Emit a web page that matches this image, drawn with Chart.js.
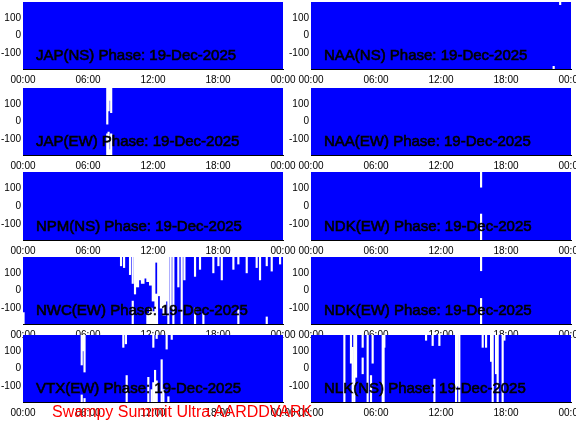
<!DOCTYPE html>
<html>
<head>
<meta charset="utf-8">
<script src="https://cdn.jsdelivr.net/npm/chart.js@4/dist/chart.umd.min.js"></script>
<style>
  body { margin: 0; background: #fff; width: 576px; height: 432px; overflow: hidden; position: relative; }
  .panel { position: absolute; }
  #footer { position: absolute; left: 52px; top: 403px; font: 16px 'Liberation Sans', Arial, sans-serif;
            line-height: 18px; color: #f00; white-space: nowrap; z-index: 5; }
</style>
</head>
<body>
<div id="footer">Swampy Summit Ultra AARDDVARK</div>
<script>
/* global Chart*/
'use strict';

// axis ticks
var hourTicks = [0, 6, 12, 18, 24];
var hourLabels = ['00:00', '06:00', '12:00', '18:00', '00:00'];
var phaseTicks = [-100, 0, 100];

// every station recorded the whole day, phase wraps over the full range
var coverageHours = [0, 24];
var phaseLimits = [-190, 190];

// white gaps in the phase trace: [hour, low, high]
var gapsJapNS = [];
var gapsNaaNS = [[22.4, -190, -175], [23.0, 175, 190]];
var gapsJapEW = [
  [7.78, -15, 190], [7.78, -190, -70], [7.9, 60, 190], [7.9, -190, -60],
  [8.02, 120, 190], [8.02, -190, -160], [8.14, 50, 190], [8.14, -190, -70]
];
var gapsNaaEW = [];
var gapsNpmNS = [];
var gapsNdkEW1 = [[15.7, 105, 190], [15.7, -190, -45]];
var gapsNwcEW = [
  [0.05, -190, -125],
  [9.05, 140, 190], [9.33, 130, 190], [9.88, 90, 190], [10.13, 40, 190], [10.13, -190, -60], [10.34, -20, 190],
  [13.42, -190, 190], [13.63, -100, 190], [13.88, -190, 190], [14.34, 20, 190], [14.65, -190, 190], [14.9, 60, 190],
  [15.88, 80, 190], [15.88, -190, -100], [16.34, 120, 190], [16.65, -190, -130], [17.57, 100, 190],
  [18.04, 140, 190], [18.35, 60, 190], [19.42, 120, 190], [19.88, -190, -110], [19.88, 150, 190],
  [20.65, 100, 190], [21.57, 130, 190], [21.88, 60, 190], [22.5, 140, 190], [22.5, -190, -150],
  [22.96, 110, 190], [23.73, 150, 190]
];
// wider white patches around midday on NWC
var blanksNwcEW = [
  [10.55, 20, 190], [10.8, 60, 190], [11.05, 40, 190], [11.3, 70, 190], [11.55, 50, 190], [11.55, -190, -130],
  [11.8, 30, 190], [11.8, -190, -100], [12.05, -60, 190], [12.05, -190, -120], [12.3, 160, 190], [12.3, -190, -20],
  [12.55, -30, 190], [12.8, -100, 190], [13.05, -140, 190], [13.3, -60, 190]
];
var gapsNdkEW2 = [[15.7, 112, 190], [15.7, -190, -45]];
var gapsVtxEW = [
  [5.42, 20, 190], [5.42, -190, -150], [5.55, 100, 190], [5.68, -20, 190], [5.68, -190, -170],
  [9.26, 120, 190], [9.5, 140, 190], [9.57, -190, -40],
  [11.57, -190, -50], [11.88, -190, -120], [12.03, 120, 190], [12.03, -190, -80], [12.19, -190, -10],
  [12.34, -190, -70], [12.34, 170, 190], [12.8, -190, 50], [12.96, -190, -120], [13.26, 110, 190],
  [13.42, -190, -160], [13.73, 165, 190]
];
var gapsNlkNS = [
  [3.08, -190, 190], [3.69, 30, 190], [3.85, -190, 120], [4.0, -190, 190], [4.16, -50, 190],
  [4.77, 120, 190], [4.77, -30, 60], [5.23, -190, 190], [5.54, -190, -40], [5.69, 30, 190],
  [6.62, -190, 190], [6.7, -190, 190], [6.77, 120, 190], [10.62, 160, 190], [11.23, 130, 190],
  [11.39, -190, -60], [11.85, 130, 190], [13.39, -190, 190], [13.54, -100, 190], [13.69, -190, 190],
  [15.85, 120, 190], [16.16, 120, 190], [16.62, 40, 190], [16.77, -190, 190], [17.08, -30, 190],
  [17.23, -190, 190], [17.69, -190, 190], [17.85, 160, 190]
];

var rowTops = [2, 88, 172, 257, 335];
var rowBottoms = [69, 155, 240, 324, 402];

var titlePlugin = {
  id: 'panelTitle',
  afterDatasetsDraw: function(chart, args, opts) {
    var a = chart.chartArea;
    var c = chart.ctx;
    c.save();
    c.font = '15px "Liberation Sans", Arial, sans-serif';
    c.fillStyle = '#000';
    c.strokeStyle = '#000';
    c.lineWidth = 0.6;
    c.fillText(opts.text, a.left + 13, a.bottom - 9);
    c.strokeText(opts.text, a.left + 13, a.bottom - 9);
    c.restore();
  }
};

function toBars(list) {
  return list.map(function(g) { return { x: g[0], y: [g[1], g[2]] }; });
}

function noEdgePadding(s) {
  s.paddingTop = 0;
  s.paddingBottom = 0;
  s.paddingLeft = 0;
  s.paddingRight = 0;
}

function makePanel(col, row, title, gaps, blanks) {
  var div = document.createElement('div');
  div.className = 'panel';
  var w = col === 0 ? 300 : 290;
  var h = rowBottoms[row] - rowTops[row] + 2 + 16;
  div.style.left = (col === 0 ? 0 : 286) + 'px';
  div.style.top = (rowTops[row] - 2) + 'px';
  div.style.width = w + 'px';
  div.style.height = h + 'px';
  var canvas = document.createElement('canvas');
  div.appendChild(canvas);
  document.body.appendChild(div);

  var tickFont = { family: "'Liberation Sans', Arial, sans-serif", size: 10 };

  new Chart(canvas, {
    type: 'line',
    data: {
      datasets: [{
        type: 'bar',
        data: toBars(gaps),
        backgroundColor: '#ffffff',
        barThickness: 1.5,
        grouped: false,
        order: 0
      }, {
        type: 'bar',
        data: toBars(blanks || []),
        backgroundColor: '#ffffff',
        barThickness: 3,
        grouped: false,
        order: 1
      }, {
        type: 'line',
        data: coverageHours.map(function(t) { return { x: t, y: phaseLimits[1] }; }),
        fill: 'start',
        backgroundColor: '#0000ff',
        borderWidth: 0,
        pointRadius: 0,
        order: 2
      }]
    },
    options: {
      animation: false,
      responsive: true,
      maintainAspectRatio: false,
      events: [],
      layout: { autoPadding: false, padding: { top: 2, right: col === 0 ? 17 : 5, left: 0, bottom: 0 } },
      plugins: {
        legend: { display: false },
        tooltip: { enabled: false },
        panelTitle: { text: title }
      },
      scales: {
        x: {
          type: 'linear',
          min: 0,
          max: 24,
          offset: false,
          grid: { display: false, drawTicks: false },
          border: { display: true, color: '#000', width: 1, z: 1 },
          afterBuildTicks: function(s) { s.ticks = hourTicks.map(function(v) { return { value: v }; }); },
          afterFit: function(s) { s.height = 16; noEdgePadding(s); },
          ticks: {
            autoSkip: false, maxRotation: 0, padding: 5, color: '#000', font: tickFont,
            callback: function(v, i) { return hourLabels[i]; }
          }
        },
        y: {
          min: phaseLimits[0],
          max: phaseLimits[1],
          grid: { display: false, drawTicks: false },
          border: { display: false },
          afterBuildTicks: function(s) { s.ticks = phaseTicks.map(function(v) { return { value: v }; }); },
          afterFit: function(s) { s.width = col === 0 ? 23 : 25; noEdgePadding(s); },
          ticks: { padding: 2, color: '#000', font: tickFont }
        }
      }
    },
    plugins: [titlePlugin]
  });
}

makePanel(0, 0, 'JAP(NS) Phase: 19-Dec-2025', gapsJapNS);
makePanel(1, 0, 'NAA(NS) Phase: 19-Dec-2025', gapsNaaNS);
makePanel(0, 1, 'JAP(EW) Phase: 19-Dec-2025', gapsJapEW);
makePanel(1, 1, 'NAA(EW) Phase: 19-Dec-2025', gapsNaaEW);
makePanel(0, 2, 'NPM(NS) Phase: 19-Dec-2025', gapsNpmNS);
makePanel(1, 2, 'NDK(EW) Phase: 19-Dec-2025', gapsNdkEW1);
makePanel(0, 3, 'NWC(EW) Phase: 19-Dec-2025', gapsNwcEW, blanksNwcEW);
makePanel(1, 3, 'NDK(EW) Phase: 19-Dec-2025', gapsNdkEW2);
makePanel(0, 4, 'VTX(EW) Phase: 19-Dec-2025', gapsVtxEW);
makePanel(1, 4, 'NLK(NS) Phase: 19-Dec-2025', gapsNlkNS);
</script>
</body>
</html>
